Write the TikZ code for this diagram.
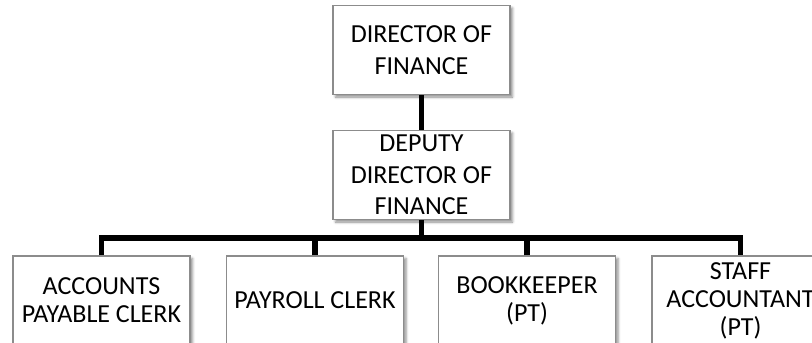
\documentclass[tikz,border=0pt]{standalone}
\usepackage{fontspec}
\setmainfont{Carlito}
\usetikzlibrary{shadows.blur}
\begin{document}
\begin{tikzpicture}[x=1pt,y=1pt,
  post/.style={draw=black!45, line width=1.2pt, fill=white,
    minimum width=177pt, inner sep=0pt, align=center,
    blur shadow={shadow xshift=2.5pt, shadow yshift=-2.5pt,
      shadow blur radius=2.5pt, shadow opacity=45}},
  toppost/.style={post, minimum height=89pt,
    font=\fontsize{26}{31.5}\selectfont},
  lowpost/.style={post, minimum height=89pt,
    font=\fontsize{26}{28}\selectfont},
  link/.style={line width=5.6pt, line join=miter}]
\useasboundingbox (0,0) rectangle (812,-343);
\clip (0,0) rectangle (812,-343);

% junction where the deputy's line meets the staff bus
\coordinate (bus) at (421.5,-238);

\node[toppost] (dir) at (421.5,-50) {DIRECTOR OF\\FINANCE};
\node[toppost] (dep) at (421.5,-175) {DEPUTY\\DIRECTOR OF\\FINANCE};

\node[lowpost] (ap) at (101.5,-300.5) {ACCOUNTS\\PAYABLE CLERK};
\node[lowpost] (pc) at (315,-300.5) {PAYROLL CLERK};
\node[lowpost] (bk) at (527,-300.5) {BOOKKEEPER\\(PT)};
\node[lowpost] (sa) at (740.5,-300.5) {STAFF\\ACCOUNTANT\\(PT)};

% reporting lines
\draw[link] (dir.south) -- (dep.north);
\draw[link] (dep.south) -- (bus);
\draw[link] (ap.north) -- (ap.north |- bus) -- (sa.north |- bus) -- (sa.north);
\draw[link] (pc.north) -- (pc.north |- bus);
\draw[link] (bk.north) -- (bk.north |- bus);
\end{tikzpicture}
\end{document}
